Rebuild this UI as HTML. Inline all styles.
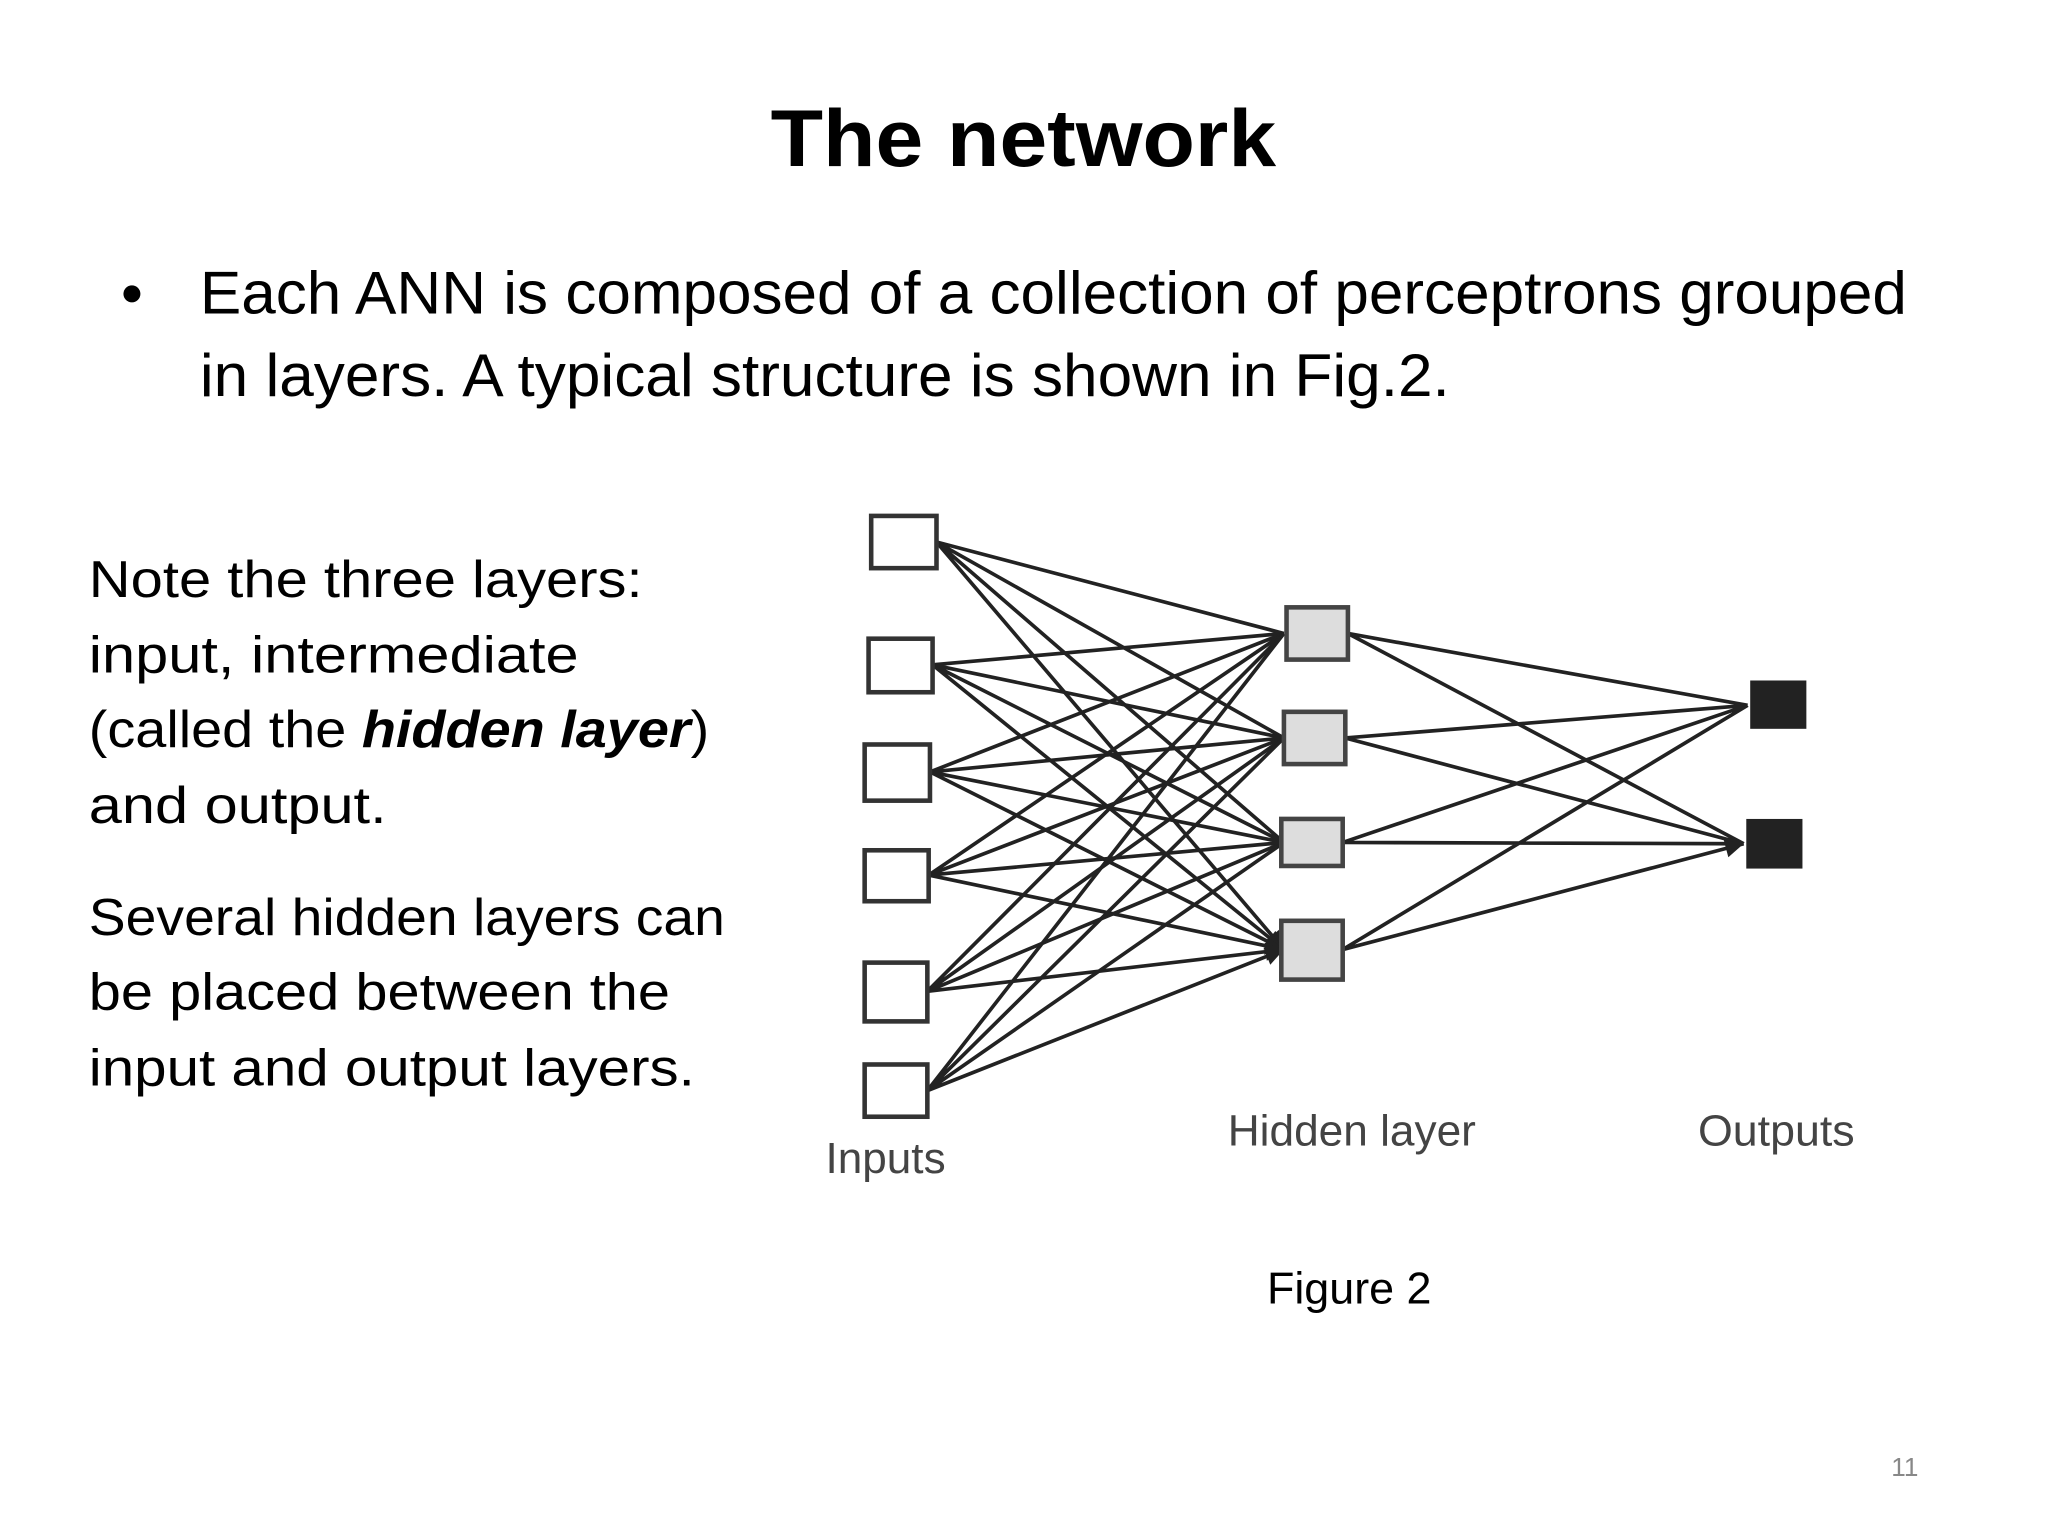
<!DOCTYPE html>
<html><head><meta charset="utf-8"><style>html,body{margin:0;padding:0;background:#fff}svg{display:block}</style></head>
<body>
<svg xmlns="http://www.w3.org/2000/svg" width="2048" height="1536" viewBox="0 0 1568 1176" font-family="'Liberation Sans', sans-serif">
<defs>
<marker id="a" viewBox="0 0 10 10" refX="10" refY="5" markerWidth="6" markerHeight="5" orient="auto"><path d="M0,0 L10,5 L0,10 z" fill="#222"/></marker>
</defs>
<rect width="1568" height="1176" fill="#fff"/>
<text x="590" y="127" font-size="62" font-weight="bold" textLength="387" lengthAdjust="spacingAndGlyphs">The network</text>
<circle cx="101" cy="225" r="6.5" fill="#000"/>
<text x="153" y="240" font-size="46" textLength="1307" lengthAdjust="spacingAndGlyphs">Each ANN is composed of a collection of perceptrons grouped</text>
<text x="153" y="303" font-size="46" textLength="957" lengthAdjust="spacingAndGlyphs">in layers. A typical structure is shown in Fig.2.</text>
<g font-size="40">
<text x="68" y="457" textLength="424" lengthAdjust="spacingAndGlyphs">Note the three layers:</text>
<text x="68" y="515" textLength="375" lengthAdjust="spacingAndGlyphs">input, intermediate</text>
<text x="68" y="572" textLength="475" lengthAdjust="spacingAndGlyphs">(called the <tspan font-weight="bold" font-style="italic">hidden layer</tspan>)</text>
<text x="68" y="630" textLength="228" lengthAdjust="spacingAndGlyphs">and output.</text>
<text x="68" y="716" textLength="487" lengthAdjust="spacingAndGlyphs">Several hidden layers can</text>
<text x="68" y="773" textLength="445" lengthAdjust="spacingAndGlyphs">be placed between the</text>
<text x="68" y="831" textLength="464" lengthAdjust="spacingAndGlyphs">input and output layers.</text>
</g>
<text x="970" y="998" font-size="34" textLength="126" lengthAdjust="spacingAndGlyphs">Figure 2</text>
<text x="1448" y="1130" font-size="20" fill="#888">11</text>
<g stroke="#222" stroke-width="2.8" fill="none" marker-end="url(#a)">
<path d="M717,415L983,485M717,415L983,565M717,415L983,645M717,415L983,727"/>
<path d="M714,509L983,485M714,509L983,565M714,509L983,645M714,509L983,727"/>
<path d="M712,591L983,485M712,591L983,565M712,591L983,645M712,591L983,727"/>
<path d="M711,670L983,485M711,670L983,565M711,670L983,645M711,670L983,727"/>
<path d="M710,759L983,485M710,759L983,565M710,759L983,645M710,759L983,727"/>
<path d="M710,835L983,485M710,835L983,565M710,835L983,645M710,835L983,727"/>
<path d="M1032,485L1338,540M1032,485L1335,646M1030,565L1338,540M1030,565L1335,646M1028,645L1338,540M1028,645L1335,646M1028,727L1338,540M1028,727L1335,646"/>
</g>
<g stroke="#333" stroke-width="3.5" fill="#fff">
<rect x="667" y="395" width="50" height="40"/>
<rect x="665" y="489" width="49" height="41"/>
<rect x="662" y="570" width="50" height="43"/>
<rect x="662" y="651" width="49" height="39"/>
<rect x="662" y="737" width="48" height="45"/>
<rect x="662" y="815" width="48" height="40"/>
</g>
<g stroke="#444" stroke-width="3.5" fill="#ddd">
<rect x="985" y="465" width="47" height="40"/>
<rect x="983" y="545" width="47" height="40"/>
<rect x="981" y="627" width="47" height="36"/>
<rect x="981" y="705" width="47" height="45"/>
</g>
<rect x="1340" y="521" width="43" height="37" fill="#222"/>
<rect x="1337" y="627" width="43" height="38" fill="#222"/>
<g font-size="33" fill="#444">
<text x="632" y="898" textLength="92" lengthAdjust="spacingAndGlyphs">Inputs</text>
<text x="940" y="877" textLength="190" lengthAdjust="spacingAndGlyphs">Hidden layer</text>
<text x="1300" y="877" textLength="120" lengthAdjust="spacingAndGlyphs">Outputs</text>
</g>
</svg>
</body></html>
